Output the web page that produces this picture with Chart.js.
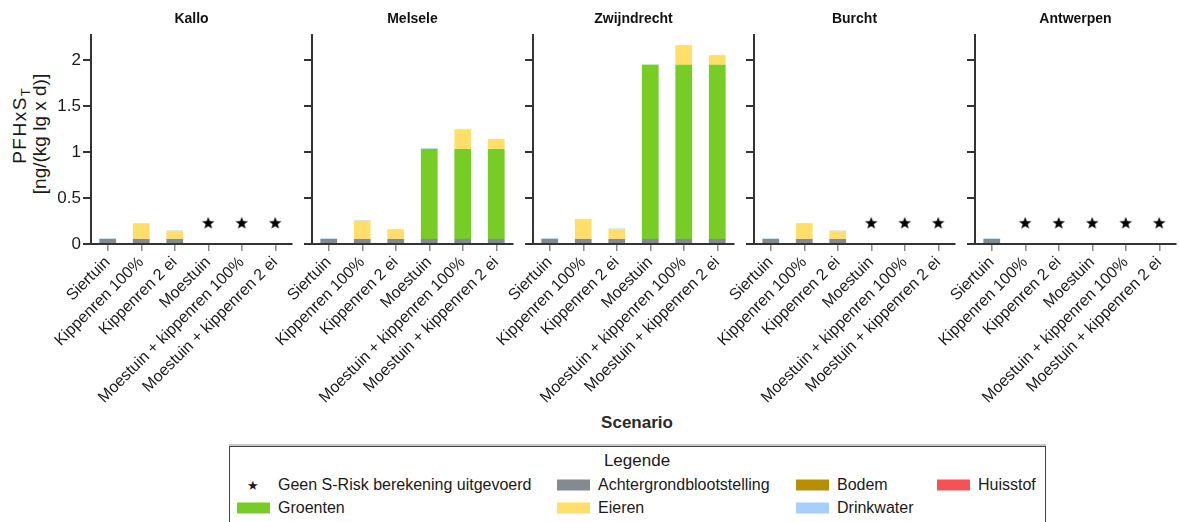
<!DOCTYPE html>
<html>
<head>
<meta charset="utf-8">
<script src="https://cdn.jsdelivr.net/npm/chart.js@4/dist/chart.umd.min.js"></script>
<style>
body { margin: 0; width: 1179px; height: 522px; overflow: hidden; background: #fff; position: relative;
       font-family: "Liberation Sans", Arial, sans-serif; color: #1a1a1a; }
canvas { position: absolute; top: 0; }
.ytitle { position: absolute; left: 30px; top: 134px; width: 240px; text-align: center; font-size: 19px; line-height: 20px;
          transform: translate(-50%, -50%) rotate(-90deg); }
.ytitle .l1 { letter-spacing: 1.5px; position: relative; left: 8px; }
.ytitle sub { font-size: 13px; line-height: 0; vertical-align: -4px; letter-spacing: 0; }
.xtitle { position: absolute; left: 637px; top: 423px; transform: translate(-50%, -50%); font-weight: bold; font-size: 17px; color: #2a2a2a; }
.legend { position: absolute; left: 229px; top: 446px; width: 815px; height: 100px; border: 1px solid #444;
          box-shadow: 0 -2px 0 #c8c8c8; }
.lg { position: absolute; font-size: 16px; transform: translateY(-50%); white-space: nowrap; }
.sw { position: absolute; width: 33px; height: 11px; transform: translateY(-50%); }
</style>
</head>
<body>
<div class="ytitle"><span class="l1">PFHxS<sub>T</sub></span><br>[ng/(kg lg x d)]</div>
<div class="xtitle">Scenario</div>
<div id="legend"></div>

<script>
const scenarios = ['Siertuin', 'Kippenren 100%', 'Kippenren 2 ei', 'Moestuin',
    'Moestuin + kippenren 100%', 'Moestuin + kippenren 2 ei'];
const locations = ['Kallo', 'Melsele', 'Zwijndrecht', 'Burcht', 'Antwerpen'];
const yTicks = [0, 0.5, 1, 1.5, 2];
const Y_MAX = 2.275;
const STAR_Y = 0.23; // height of the "geen berekening" marker

// one row per location (same order as locations), null = no S-Risk calculation
const achtergrond = [
    [0.055, 0.055, 0.055, null, null, null],
    [0.055, 0.055, 0.055, 0.055, 0.055, 0.055],
    [0.055, 0.055, 0.055, 0.055, 0.055, 0.055],
    [0.055, 0.055, 0.055, null, null, null],
    [0.055, null, null, null, null, null]
];
const bodem = [
    [0, 0, 0, null, null, null],
    [0, 0, 0, 0, 0, 0],
    [0, 0, 0, 0, 0, 0],
    [0, 0, 0, null, null, null],
    [0, null, null, null, null, null]
];
const huisstof = [
    [0, 0, 0, null, null, null],
    [0, 0, 0, 0, 0, 0],
    [0, 0, 0, 0, 0, 0],
    [0, 0, 0, null, null, null],
    [0, null, null, null, null, null]
];
const groenten = [
    [0, 0, 0, null, null, null],
    [0, 0, 0, 0.980, 0.980, 0.980],
    [0, 0, 0, 1.895, 1.895, 1.895],
    [0, 0, 0, null, null, null],
    [0, null, null, null, null, null]
];
const eieren = [
    [0, 0.165, 0.085, null, null, null],
    [0, 0.198, 0.100, 0, 0.206, 0.100],
    [0, 0.209, 0.107, 0, 0.207, 0.102],
    [0, 0.165, 0.085, null, null, null],
    [0, null, null, null, null, null]
];
const drinkwater = [
    [0.006, 0.006, 0.006, null, null, null],
    [0.006, 0.006, 0.006, 0.008, 0.006, 0.006],
    [0.008, 0.006, 0.006, 0.004, 0.006, 0.006],
    [0.006, 0.006, 0.006, null, null, null],
    [0.006, null, null, null, null, null]
];

const colors = {
    achtergrond: '#838a90',
    bodem: '#b88f00',
    huisstof: '#f55353',
    groenten: '#77cc26',
    eieren: '#ffdf69',
    drinkwater: '#a6cffd'
};

// layout of the facets
const PANEL_LEFT0 = 91, PANEL_STEP = 221, PANEL_W = 209, AXIS_W = 91;
const CANVAS_H = 420, PLOT_TOP = 35, PLOT_BOTTOM = 244;

// filled star marker
const starCanvas = document.createElement('canvas');
starCanvas.width = 14; starCanvas.height = 14;
(function () {
    const c = starCanvas.getContext('2d');
    c.fillStyle = '#000';
    c.beginPath();
    for (let i = 0; i < 10; i++) {
        const r = i % 2 === 0 ? 6.6 : 2.7;
        const a = -Math.PI / 2 + i * Math.PI / 5;
        const x = 7 + r * Math.cos(a), y = 7.5 + r * Math.sin(a);
        if (i === 0) c.moveTo(x, y); else c.lineTo(x, y);
    }
    c.closePath();
    c.fill();
})();

const panelTitle = {
    id: 'panelTitle',
    afterDraw(chart, args, opts) {
        const { ctx, chartArea } = chart;
        ctx.save();
        ctx.font = 'bold 14px "Liberation Sans", Arial, sans-serif';
        ctx.fillStyle = '#111';
        ctx.textAlign = 'center';
        ctx.textBaseline = 'middle';
        ctx.fillText(opts.text, (chartArea.left + chartArea.right) / 2, 19);
        ctx.restore();
    }
};

function barSet(label, rows, color, li) {
    return {
        type: 'bar',
        label: label,
        data: rows[li],
        backgroundColor: color,
        borderWidth: 0,
        stack: 'bars',
        barPercentage: 0.5,
        categoryPercentage: 1
    };
}

locations.forEach((loc, li) => {
    const canvas = document.createElement('canvas');
    canvas.width = AXIS_W + PANEL_W;
    canvas.height = CANVAS_H;
    canvas.style.left = (PANEL_LEFT0 + li * PANEL_STEP - AXIS_W) + 'px';
    document.body.appendChild(canvas);

    const stars = achtergrond[li].map(v => v === null ? STAR_Y : null);

    new Chart(canvas.getContext('2d'), {
        data: {
            labels: scenarios,
            datasets: [
                barSet('Achtergrondblootstelling', achtergrond, colors.achtergrond, li),
                barSet('Bodem', bodem, colors.bodem, li),
                barSet('Huisstof', huisstof, colors.huisstof, li),
                barSet('Groenten', groenten, colors.groenten, li),
                barSet('Eieren', eieren, colors.eieren, li),
                barSet('Drinkwater', drinkwater, colors.drinkwater, li),
                {
                    type: 'line',
                    label: 'Geen S-Risk berekening uitgevoerd',
                    data: stars,
                    showLine: false,
                    stack: 'stars',
                    pointStyle: starCanvas,
                    pointRadius: 7,
                    order: -1
                }
            ]
        },
        options: {
            responsive: false,
            animation: false,
            layout: { padding: { top: PLOT_TOP, left: 0, right: 0, bottom: 0 } },
            plugins: {
                legend: { display: false },
                tooltip: { enabled: false },
                panelTitle: { text: loc }
            },
            scales: {
                x: {
                    stacked: true,
                    offset: true,
                    grid: { offset: false, drawOnChartArea: false, drawTicks: true, tickLength: 7, color: '#8a8a8a', lineWidth: 1.5 },
                    border: { display: true, color: '#333', width: 2 },
                    ticks: {
                        autoSkip: false, minRotation: 45, maxRotation: 45, padding: 2,
                        color: '#1a1a1a', font: { family: '"Liberation Sans", Arial, sans-serif', size: 16 }
                    },
                    afterFit(scale) {
                        scale.height = CANVAS_H - PLOT_BOTTOM;
                        scale.paddingLeft = 0;
                        scale.paddingRight = 0;
                    }
                },
                y: {
                    stacked: true,
                    min: 0,
                    max: Y_MAX,
                    grid: { drawOnChartArea: false, drawTicks: true, tickLength: 8, color: '#333', lineWidth: 2 },
                    border: { display: true, color: '#333', width: 2 },
                    ticks: {
                        padding: 2,
                        color: li === 0 ? '#1a1a1a' : 'rgba(0,0,0,0)',
                        font: { family: '"Liberation Sans", Arial, sans-serif', size: 17 },
                        callback: v => String(v)
                    },
                    afterBuildTicks(scale) {
                        scale.ticks = yTicks.map(v => ({ value: v }));
                    },
                    afterFit(scale) {
                        scale.width = AXIS_W;
                        scale.paddingTop = 0;
                        scale.paddingBottom = 0;
                    }
                }
            }
        },
        plugins: [panelTitle]
    });
});

// legend box
const legendItems = [
    { kind: 'star', label: 'Geen S-Risk berekening uitgevoerd', x: 247, y: 485 },
    { kind: 'sw', label: 'Achtergrondblootstelling', color: colors.achtergrond, x: 557, y: 485 },
    { kind: 'sw', label: 'Bodem', color: colors.bodem, x: 796, y: 485 },
    { kind: 'sw', label: 'Huisstof', color: colors.huisstof, x: 937, y: 485 },
    { kind: 'sw', label: 'Groenten', color: colors.groenten, x: 237, y: 508 },
    { kind: 'sw', label: 'Eieren', color: colors.eieren, x: 557, y: 508 },
    { kind: 'sw', label: 'Drinkwater', color: colors.drinkwater, x: 796, y: 508 }
];
let html = '<div class="legend"></div><div class="lg" style="left:637px;top:461px;transform:translate(-50%,-50%);font-size:17px">Legende</div>';
legendItems.forEach(it => {
    if (it.kind === 'star') {
        html += `<div class="lg" style="left:${it.x}px;top:${it.y}px;font-size:13px">★</div>`;
        html += `<div class="lg" style="left:278px;top:${it.y}px">${it.label}</div>`;
    } else {
        html += `<div class="sw" style="left:${it.x}px;top:${it.y}px;background:${it.color}"></div>`;
        html += `<div class="lg" style="left:${it.x + 41}px;top:${it.y}px">${it.label}</div>`;
    }
});
document.getElementById('legend').innerHTML = html;
</script>
</body>
</html>
